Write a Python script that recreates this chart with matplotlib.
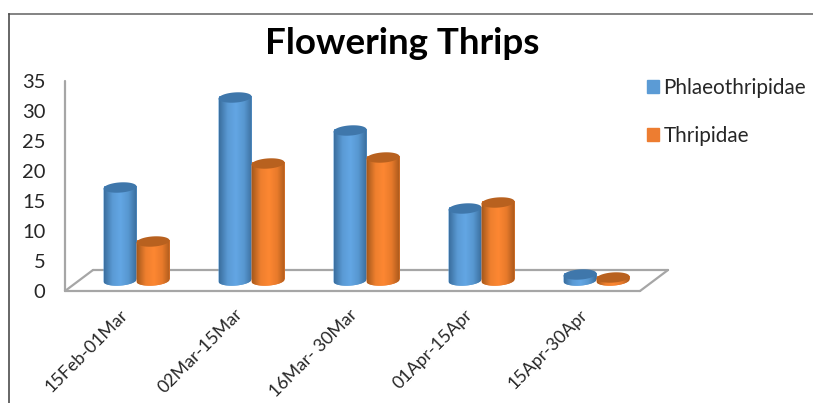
#!/usr/bin/env python3

import numpy as np
import matplotlib
matplotlib.use('Agg')
import matplotlib.pyplot as plt
import matplotlib.lines as mlines
import matplotlib.patches as mpatches
import matplotlib.transforms as mtrans
from matplotlib.colors import LinearSegmentedColormap

periods = ['15Feb-01Mar', '02Mar-15Mar', '16Mar- 30Mar', '01Apr-15Apr', '15Apr-30Apr']
phlaeothripidae = [15.5, 30.5, 25.0, 12.0, 1.0]
thripidae = [6.5, 19.5, 20.5, 13.0, 0.5]
yticks = [0, 5, 10, 15, 20, 25, 30, 35]

W, H = 813, 403
LEFT, RIGHT, BOTTOM, TOP = 65, 640, 291, 81   # axes box in pixels

plt.rcParams['font.family'] = ['Lato', 'DejaVu Sans']

BLUE = {'name': 'Phlaeothripidae', 'mid': '#5b9bd5', 'top': '#3f77ab',
        'ramp': ['#3b6f9f', '#5a9ad4', '#63a6e4', '#5797d0', '#3a6d9c']}
ORANGE = {'name': 'Thripidae', 'mid': '#ed7d31', 'top': '#b8611f',
          'ramp': ['#a85a1c', '#ee7f2e', '#fd8732', '#e87a2b', '#a9591b']}

BAR_W = 33 / 115     # category units
DEPTH_X = 28 / 115   # floor depth, category units
DEPTH_Y = 3.5        # floor depth, value units
RY = 0.85            # cylinder end radius, value units
TILT = 0.18          # right side of the end caps sits a bit higher


def cap(cx, cy):
    t = np.linspace(0, 2 * np.pi, 80)
    dx = np.cos(t) * BAR_W / 2
    return cx + dx, cy + np.sin(t) * RY + TILT * dx / (BAR_W / 2)


def draw_cylinder(ax, cx, val, style, z):
    y0 = DEPTH_Y / 2
    y1 = y0 + val
    ax.bar(cx, val, BAR_W, bottom=y0 + TILT, color=style['mid'], zorder=z, clip_on=False)

    # body outline: straight sides, rounded bottom
    t = np.linspace(np.pi, 2 * np.pi, 40)
    dx = np.cos(t) * BAR_W / 2
    bx = cx + dx
    by = y0 + np.sin(t) * RY + TILT * dx / (BAR_W / 2)
    px = np.r_[bx, cx + BAR_W / 2, cx - BAR_W / 2]
    py = np.r_[by, y1 + TILT, y1 - TILT]
    body = mpatches.Polygon(np.c_[px, py], closed=True, fc=style['mid'], ec='none',
                            zorder=z + 0.1, clip_on=False)
    ax.add_patch(body)

    cmap = LinearSegmentedColormap.from_list('cyl', style['ramp'])
    im = ax.imshow(np.linspace(0, 1, 64)[None, :], cmap=cmap, aspect='auto',
                   extent=(cx - BAR_W / 2, cx + BAR_W / 2, y0 - RY - TILT, y1 + TILT),
                   zorder=z + 0.2)
    im.set_clip_path(body)

    tx, ty = cap(cx, y1)
    ax.fill(tx, ty, color=style['top'], lw=0, zorder=z + 0.3, clip_on=False)


fig = plt.figure(figsize=(W / 100, H / 100), dpi=100, facecolor='white')
ax = fig.add_axes([LEFT / W, 1 - BOTTOM / H, (RIGHT - LEFT) / W, (BOTTOM - TOP) / H])
ax.patch.set_visible(False)

x = np.arange(len(periods))
xmin, xmax = -0.5, len(periods) - 0.5

# floor and value axis
floor = dict(color='#a6a6a6', lw=1.6, clip_on=False, zorder=1, solid_capstyle='round')
ax.plot([xmin, xmax], [0, 0], **floor)
ax.plot([xmin + DEPTH_X, xmax + DEPTH_X], [DEPTH_Y, DEPTH_Y], **floor)
ax.plot([xmin, xmin + DEPTH_X], [0, DEPTH_Y], **floor)
ax.plot([xmax, xmax + DEPTH_X], [0, DEPTH_Y], **floor)
ax.plot([xmin, xmin], [0, 35], **floor)

z = 3
for i in x:
    gx = i + DEPTH_X / 2
    draw_cylinder(ax, gx - BAR_W / 2, phlaeothripidae[i], BLUE, z)
    draw_cylinder(ax, gx + BAR_W / 2, thripidae[i], ORANGE, z + 1)
    z += 2

ax.set_xlim(xmin, xmax)
ax.set_ylim(0, 35)
for s in ax.spines.values():
    s.set_visible(False)

ax.set_yticks(yticks)
ax.tick_params(axis='y', length=0, pad=14, labelsize=14.5, labelcolor='#262626')
ax.set_xticks(x)
ax.set_xticklabels(periods, rotation=45, ha='right', va='top', rotation_mode='anchor',
                   fontsize=12.8, color='#262626')
ax.tick_params(axis='x', length=0, pad=11)
shift = mtrans.ScaledTranslation(-3 / 100, 0, fig.dpi_scale_trans)
for lab in ax.get_xticklabels():
    lab.set_transform(lab.get_transform() + shift)

fig.text(402 / W, 1 - 44 / H, 'Flowering Thrips', fontsize=26.5, fontweight='bold',
         color='black', ha='center', va='center')

handles = [mpatches.Patch(color=BLUE['mid'], label=BLUE['name']),
           mpatches.Patch(color=ORANGE['mid'], label=ORANGE['name'])]
fig.legend(handles=handles, loc='upper left', bbox_to_anchor=(647 / W, 1 - 78 / H),
           frameon=False, fontsize=14.9, labelcolor='#262626', handlelength=0.6,
           handleheight=0.6, handletextpad=0.2, labelspacing=1.35,
           borderpad=0, borderaxespad=0)

# chart frame, only top and left are in the crop
fig.add_artist(mlines.Line2D([8.5 / W, 1], [1 - 14 / H, 1 - 14 / H], color='#6e6e6e', lw=1.2))
fig.add_artist(mlines.Line2D([8.5 / W, 8.5 / W], [1 - 14 / H, 0], color='#4d4d4d', lw=1.2))

fig.savefig('out.png', dpi=100, facecolor='white')
